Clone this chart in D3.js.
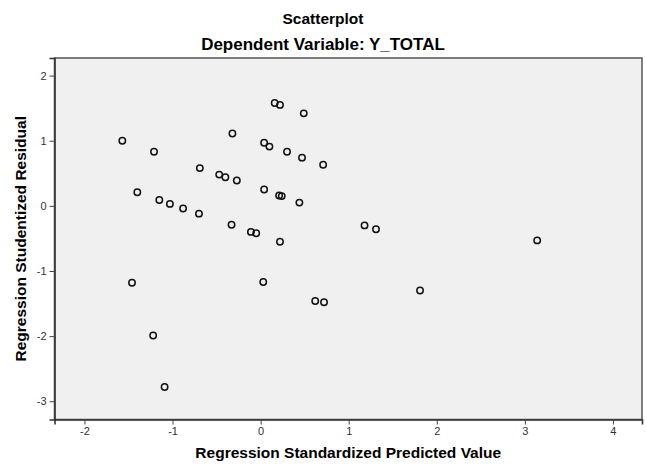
<!DOCTYPE html>
<html>
<head>
<meta charset="utf-8">
<script src="https://cdn.jsdelivr.net/npm/d3@7"></script>
<style>
  body { margin: 0; background: #fff; }
  text { font-family: "Liberation Sans", Arial, sans-serif; }
</style>
</head>
<body>
<div id="viz"></div>
<script>
// values
const predicted = [0.16, 0.22, 0.49, -1.57, -1.21, -0.32, 0.04, 0.10, 0.30, 0.47,
    0.71, -0.69, -0.47, -0.40, -0.27, -1.40, -1.15, -1.03, -0.88, -0.70,
    0.04, 0.21, 0.24, 0.44, -0.33, -0.11, -0.05, 0.22, -1.46, 0.03,
    0.62, 0.72, -1.22, -1.09, 1.18, 1.31, 3.14, 1.81];
const residual = [1.58, 1.55, 1.42, 1.00, 0.83, 1.11, 0.97, 0.91, 0.83, 0.74,
    0.63, 0.58, 0.48, 0.44, 0.39, 0.21, 0.09, 0.03, -0.04, -0.12,
    0.25, 0.16, 0.15, 0.05, -0.29, -0.40, -0.42, -0.55, -1.18, -1.17,
    -1.46, -1.48, -1.99, -2.78, -0.30, -0.36, -0.53, -1.30];
const xTicks = [-2, -1, 0, 1, 2, 3, 4];
const yTicks = [-3, -2, -1, 0, 1, 2];

const width = 646, height = 464;
const plotLeft = 54.5, plotRight = 642, plotTop = 58, plotBottom = 419.5;

const svg = d3.select("#viz")
    .append("svg")
    .attr("width", width)
    .attr("height", height);

const xScale = d3.scaleLinear()
    .domain([-2.34, 4.33])
    .range([plotLeft, plotRight]);

const yScale = d3.scaleLinear()
    .domain([-3.28, 2.27])
    .range([plotBottom, plotTop]);

// plot background + frame
svg.append("rect")
    .attr("x", plotLeft)
    .attr("y", plotTop)
    .attr("width", plotRight - plotLeft)
    .attr("height", plotBottom - plotTop)
    .attr("fill", "#f0f0f0")
    .attr("stroke", "#555")
    .attr("stroke-width", 1.5);

// axes
const xAxis = svg.append("g")
    .attr("transform", `translate(0,${plotBottom})`)
    .call(d3.axisBottom(xScale).tickValues(xTicks).tickSize(5).tickPadding(3)
        .tickFormat(d => String(d)));

const yAxis = svg.append("g")
    .attr("transform", `translate(${plotLeft},0)`)
    .call(d3.axisLeft(yScale).tickValues(yTicks).tickSize(5).tickPadding(3)
        .tickFormat(d => String(d)));

[xAxis, yAxis].forEach(g => {
    g.select(".domain").attr("stroke", "#333").attr("stroke-width", 1.6);
    g.selectAll(".tick line").attr("stroke", "#444");
    g.selectAll(".tick text")
        .attr("fill", "#333")
        .style("font-size", "11px")
        .style("font-family", "'Liberation Sans', Arial, sans-serif");
});

// points
svg.append("g")
    .selectAll("circle")
    .data(predicted.map((p, i) => ({ p: p, r: residual[i] })))
    .enter()
    .append("circle")
    .attr("cx", d => xScale(d.p))
    .attr("cy", d => yScale(d.r))
    .attr("r", 3.2)
    .attr("fill", "none")
    .attr("stroke", "#111")
    .attr("stroke-width", 1.5);

// titles
svg.append("text")
    .attr("x", width / 2)
    .attr("y", 24)
    .attr("text-anchor", "middle")
    .style("font-size", "15.5px")
    .style("font-weight", "bold")
    .text("Scatterplot");

svg.append("text")
    .attr("x", width / 2)
    .attr("y", 50)
    .attr("text-anchor", "middle")
    .style("font-size", "17px")
    .style("font-weight", "bold")
    .text("Dependent Variable: Y_TOTAL");

// axis titles
svg.append("text")
    .attr("x", (plotLeft + plotRight) / 2)
    .attr("y", 458)
    .attr("text-anchor", "middle")
    .style("font-size", "15.5px")
    .style("font-weight", "bold")
    .text("Regression Standardized Predicted Value");

svg.append("text")
    .attr("transform", `translate(26,${(plotTop + plotBottom) / 2}) rotate(-90)`)
    .attr("text-anchor", "middle")
    .style("font-size", "15.5px")
    .style("font-weight", "bold")
    .text("Regression Studentized Residual");
</script>
</body>
</html>
